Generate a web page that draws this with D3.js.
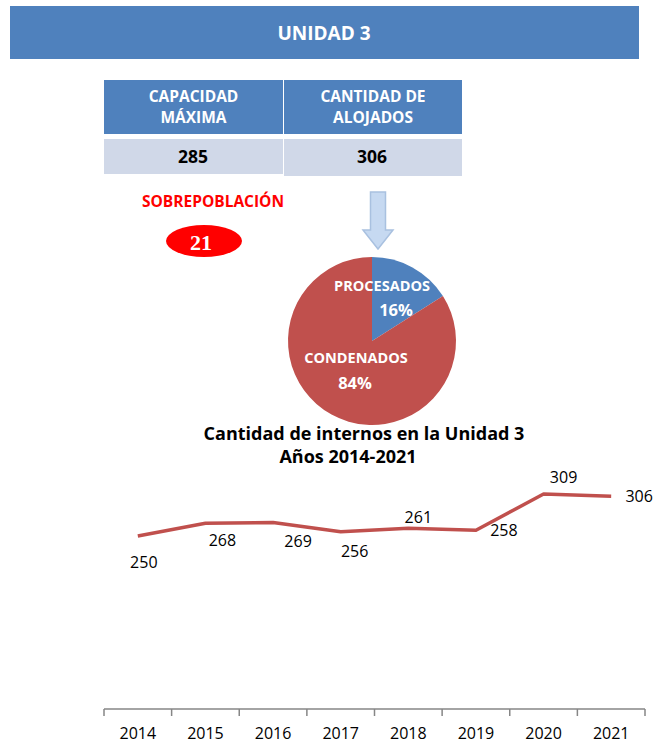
<!DOCTYPE html>
<html>
<head>
<meta charset="utf-8">
<script src="https://cdn.jsdelivr.net/npm/d3@7"></script>
<style>
  body { margin: 0; background: #fff; }
  text { font-family: "Open Sans", Lato, sans-serif; }
</style>
</head>
<body>
<div id="chart"></div>
<script>
// data
const title = "UNIDAD 3";
const tableHeaders = [["CAPACIDAD", "MÁXIMA"], ["CANTIDAD DE", "ALOJADOS"]];
const tableValues = [285, 306];
const overLabel = "SOBREPOBLACIÓN";
const overValue = 21;

const pieLabels = ["PROCESADOS", "CONDENADOS"];
const pieValues = [16, 84];

const lineTitle = ["Cantidad de internos en la Unidad 3", "Años 2014-2021"];
const years = ["2014", "2015", "2016", "2017", "2018", "2019", "2020", "2021"];
const internos = [250, 268, 269, 256, 261, 258, 309, 306];

// label placement for the line chart (dx, dy from the point)
const labelOffsets = [[6, 32], [17, 23], [25, 25], [14, 25], [10, -5], [28, 6], [20, -11], [28, 6]];

const W = 657, H = 744;
const blue = "#4f81bd", red = "#c0504d";

const svg = d3.select("#chart").append("svg")
  .attr("width", W)
  .attr("height", H);

// header bar
svg.append("rect")
  .attr("x", 10).attr("y", 6)
  .attr("width", 629).attr("height", 53)
  .attr("fill", blue);
svg.append("text")
  .attr("x", 324).attr("y", 40)
  .attr("text-anchor", "middle")
  .attr("fill", "#fff")
  .style("font-size", "19px")
  .style("font-weight", "bold")
  .text(title);

// table
const colX = [104, 284];
const colW = [179, 178];
tableHeaders.forEach((lines, i) => {
  svg.append("rect")
    .attr("x", colX[i]).attr("y", 80)
    .attr("width", colW[i]).attr("height", 54)
    .attr("fill", blue);
  svg.append("rect")
    .attr("x", colX[i]).attr("y", 139)
    .attr("width", colW[i]).attr("height", i === 0 ? 35 : 37)
    .attr("fill", "#d0d8e8");
  svg.selectAll(null)
    .data(lines)
    .join("text")
    .attr("x", colX[i] + colW[i] / 2)
    .attr("y", (d, j) => 101.5 + j * 21)
    .attr("text-anchor", "middle")
    .attr("fill", "#fff")
    .style("font-size", "15.5px")
    .style("font-weight", "bold")
    .text(d => d);
  svg.append("text")
    .attr("x", i === 0 ? 193 : 372)
    .attr("y", 163)
    .attr("text-anchor", "middle")
    .attr("fill", "#000")
    .style("font-size", "17.5px")
    .style("font-weight", "bold")
    .text(tableValues[i]);
});

// overpopulation
svg.append("text")
  .attr("x", 213).attr("y", 206.5)
  .attr("text-anchor", "middle")
  .attr("fill", "#ff0000")
  .style("font-size", "15.5px")
  .style("font-weight", "bold")
  .text(overLabel);
svg.append("ellipse")
  .attr("cx", 204).attr("cy", 241)
  .attr("rx", 38).attr("ry", 16)
  .attr("fill", "#ff0000");
svg.append("text")
  .attr("x", 201).attr("y", 250)
  .attr("text-anchor", "middle")
  .attr("fill", "#fff")
  .style("font-family", "'Liberation Serif', serif")
  .style("font-size", "22px")
  .style("font-weight", "bold")
  .text(overValue);

// arrow
const ax = 378;
svg.append("path")
  .attr("d", `M${ax - 7.5},192 H${ax + 7.5} V230 H${ax + 15} L${ax},249 L${ax - 15},230 H${ax - 7.5} Z`)
  .attr("fill", "#c6d9f1")
  .attr("stroke", "#a9c1e0")
  .attr("stroke-width", 1.5);

// pie
const pieG = svg.append("g").attr("transform", "translate(372,341)");
const pie = d3.pie().sort(null)(pieValues);
const arc = d3.arc().innerRadius(0).outerRadius(84);
pieG.selectAll("path")
  .data(pie)
  .join("path")
  .attr("d", arc)
  .attr("fill", (d, i) => i === 0 ? blue : red);

const pieText = [
  [[10, -50], [24, -25]],
  [[-16, 22], [-17, 48]]
];
pie.forEach((d, i) => {
  pieG.append("text")
    .attr("x", pieText[i][0][0]).attr("y", pieText[i][0][1])
    .attr("text-anchor", "middle")
    .attr("fill", "#fff")
    .style("font-size", "14.5px")
    .style("font-weight", "bold")
    .text(pieLabels[i]);
  pieG.append("text")
    .attr("x", pieText[i][1][0]).attr("y", pieText[i][1][1])
    .attr("text-anchor", "middle")
    .attr("fill", "#fff")
    .style("font-size", "16.5px")
    .style("font-weight", "bold")
    .text(pieValues[i] + "%");
});

// line chart title
svg.selectAll("text.ltitle")
  .data(lineTitle)
  .join("text")
  .attr("class", "ltitle")
  .attr("x", (d, i) => i === 0 ? 364 : 348)
  .attr("y", (d, i) => 439.5 + i * 23)
  .attr("text-anchor", "middle")
  .attr("fill", "#000")
  .style("font-size", "18px")
  .style("font-weight", "bold")
  .text(d => d);

// line chart
const x = d3.scaleBand().domain(years).range([104, 645]);
const y = d3.scaleLinear().domain([0, 350]).range([714, 714 - 0.712 * 350]);
const axisY = 709;

const line = d3.line()
  .x((d, i) => x(years[i]) + x.bandwidth() / 2)
  .y(d => y(d));

svg.append("path")
  .datum(internos)
  .attr("d", line)
  .attr("fill", "none")
  .attr("stroke", red)
  .attr("stroke-width", 3.5)
  .attr("stroke-linejoin", "round");

svg.selectAll("text.dl")
  .data(internos)
  .join("text")
  .attr("class", "dl")
  .attr("x", (d, i) => x(years[i]) + x.bandwidth() / 2 + labelOffsets[i][0])
  .attr("y", (d, i) => y(d) + labelOffsets[i][1])
  .attr("text-anchor", "middle")
  .attr("fill", "#000")
  .style("font-size", "16px")
  .text(d => d);

// category axis, ticks between categories
const axisG = svg.append("g").attr("transform", `translate(0,${axisY})`);
axisG.append("line")
  .attr("x1", 104).attr("x2", 645)
  .attr("stroke", "#868686").attr("stroke-width", 1.5);
const edges = years.map(d => x(d)).concat([x.range()[1]]);
axisG.selectAll("line.tick")
  .data(edges)
  .join("line")
  .attr("class", "tick")
  .attr("x1", d => d).attr("x2", d => d)
  .attr("y1", 0).attr("y2", 7)
  .attr("stroke", "#868686").attr("stroke-width", 1.5);
axisG.selectAll("text")
  .data(years)
  .join("text")
  .attr("x", d => x(d) + x.bandwidth() / 2)
  .attr("y", 29.5)
  .attr("text-anchor", "middle")
  .attr("fill", "#000")
  .style("font-size", "16px")
  .text(d => d);
</script>
</body>
</html>
